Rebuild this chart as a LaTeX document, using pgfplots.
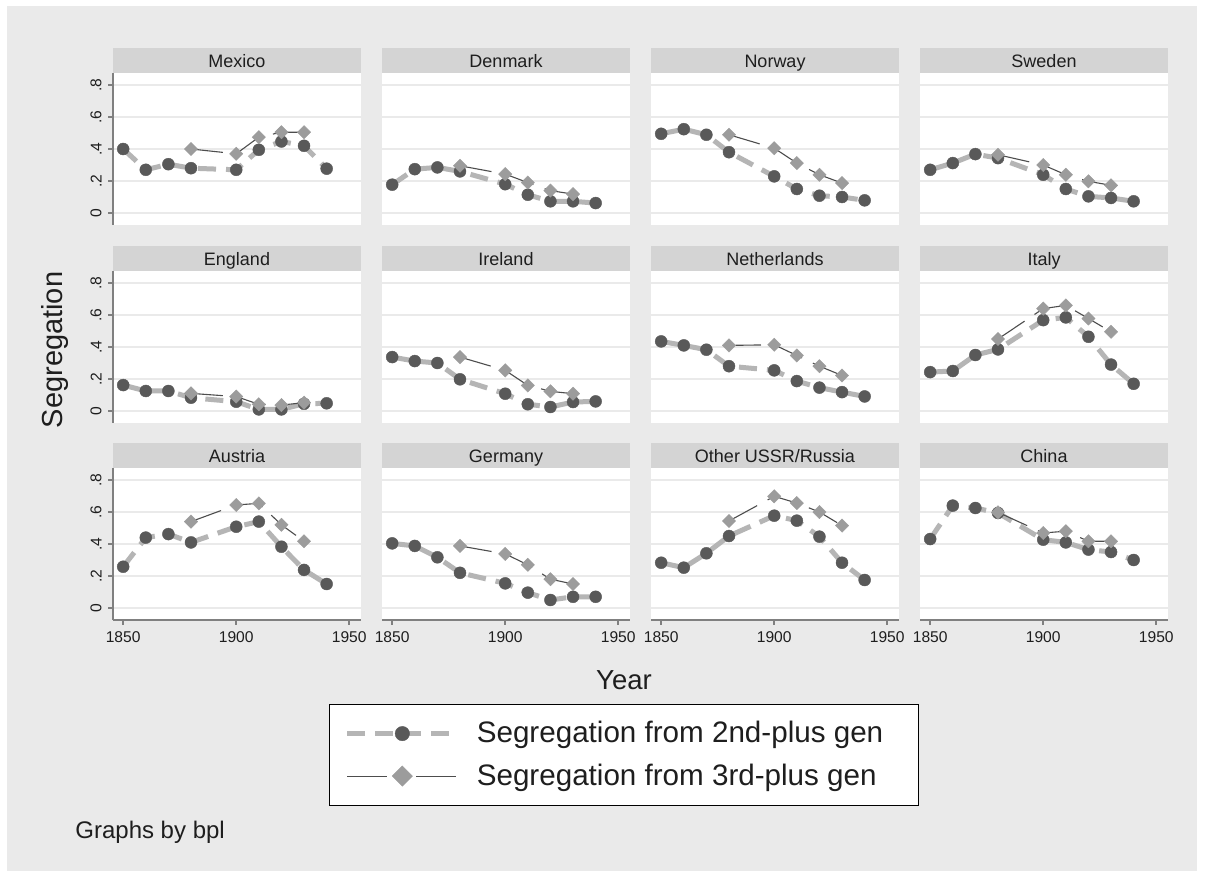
\documentclass[border=0pt]{standalone}
\usepackage{pgfplots}
\pgfplotsset{compat=1.18}
\usepackage{pgfplotstable}
\usepackage{fontspec}
\setmainfont{Liberation Sans}

\definecolor{bgouter}{HTML}{EAEAEA}
\definecolor{stripfill}{HTML}{D4D4D4}
\definecolor{gridc}{HTML}{EAEAEA}
\definecolor{axisc}{HTML}{808080}
\definecolor{secline}{HTML}{B5B5B5}
\definecolor{secmark}{HTML}{595959}
\definecolor{thrline}{HTML}{4D4D4D}
\definecolor{thrmark}{HTML}{9C9C9C}
\definecolor{txt}{HTML}{1E1E1E}

% year, segregation from 2nd-plus gen (sec), from 3rd-plus gen (thr)
\pgfplotstableread{
year sec thr
1850 0.400 nan
1860 0.270 nan
1870 0.305 nan
1880 0.280 0.400
1900 0.270 0.370
1910 0.395 0.474
1920 0.447 0.505
1930 0.420 0.505
1940 0.277 nan
}\tabMexico
\pgfplotstableread{
year sec thr
1850 0.177 nan
1860 0.274 nan
1870 0.285 nan
1880 0.260 0.295
1900 0.180 0.243
1910 0.114 0.190
1920 0.073 0.140
1930 0.073 0.118
1940 0.062 nan
}\tabDenmark
\pgfplotstableread{
year sec thr
1850 0.495 nan
1860 0.524 nan
1870 0.489 nan
1880 0.380 0.489
1900 0.229 0.405
1910 0.150 0.312
1920 0.108 0.239
1930 0.100 0.187
1940 0.079 nan
}\tabNorway
\pgfplotstableread{
year sec thr
1850 0.270 nan
1860 0.312 nan
1870 0.368 nan
1880 0.343 0.364
1900 0.239 0.300
1910 0.150 0.239
1920 0.104 0.198
1930 0.094 0.173
1940 0.073 nan
}\tabSweden
\pgfplotstableread{
year sec thr
1850 0.162 nan
1860 0.125 nan
1870 0.125 nan
1880 0.083 0.110
1900 0.058 0.090
1910 0.010 0.042
1920 0.010 0.037
1930 0.045 0.052
1940 0.048 nan
}\tabEngland
\pgfplotstableread{
year sec thr
1850 0.337 nan
1860 0.312 nan
1870 0.300 nan
1880 0.198 0.337
1900 0.108 0.254
1910 0.042 0.160
1920 0.025 0.123
1930 0.056 0.108
1940 0.060 nan
}\tabIreland
\pgfplotstableread{
year sec thr
1850 0.435 nan
1860 0.410 nan
1870 0.383 nan
1880 0.280 0.410
1900 0.254 0.414
1910 0.187 0.347
1920 0.146 0.280
1930 0.118 0.222
1940 0.091 nan
}\tabNetherlands
\pgfplotstableread{
year sec thr
1850 0.243 nan
1860 0.250 nan
1870 0.350 nan
1880 0.385 0.450
1900 0.568 0.640
1910 0.585 0.660
1920 0.464 0.578
1930 0.290 0.495
1940 0.170 nan
}\tabItaly
\pgfplotstableread{
year sec thr
1850 0.258 nan
1860 0.440 nan
1870 0.462 nan
1880 0.410 0.540
1900 0.508 0.644
1910 0.540 0.654
1920 0.383 0.520
1930 0.238 0.417
1940 0.150 nan
}\tabAustria
\pgfplotstableread{
year sec thr
1850 0.404 nan
1860 0.388 nan
1870 0.317 nan
1880 0.220 0.388
1900 0.154 0.338
1910 0.096 0.270
1920 0.050 0.180
1930 0.070 0.150
1940 0.070 nan
}\tabGermany
\pgfplotstableread{
year sec thr
1850 0.283 nan
1860 0.252 nan
1870 0.342 nan
1880 0.450 0.544
1900 0.577 0.698
1910 0.546 0.656
1920 0.446 0.600
1930 0.283 0.515
1940 0.175 nan
}\tabUSSR
\pgfplotstableread{
year sec thr
1850 0.431 nan
1860 0.640 nan
1870 0.625 nan
1880 0.594 0.598
1900 0.427 0.469
1910 0.410 0.480
1920 0.365 0.417
1930 0.350 0.417
1940 0.300 nan
}\tabChina

\tikzset{strip/.style={font=\fontsize{9}{10}\selectfont, text=txt, anchor=base, inner sep=0pt}}

\pgfplotsset{
  panel/.style={
    scale only axis, width=124pt, height=75.75pt,
    xmin=1845.5, xmax=1955.2, ymin=-0.075, ymax=0.872,
    axis background/.style={fill=white},
    axis x line*=bottom, axis y line*=left,
    xtick={1850,1900,1950}, ytick={0,0.2,0.4,0.6,0.8},
    ymajorgrids, grid style={gridc, line width=1pt},
    tick align=outside, major tick length=2.5pt,
    x axis line style={draw=none, -}, y axis line style={draw=none, -},
    xticklabels={}, yticklabels={},
    xtick style={draw=none}, ytick style={draw=none},
    ticklabel style={font=\fontsize{7.8}{9}\selectfont, text=txt},
    clip=false,
  },
  leftcol/.style={
    y axis line style={draw=axisc, line width=1pt, -},
    ytick style={draw=axisc, line width=0.8pt},
    yticklabels={0,.2,.4,.6,.8},
    yticklabel style={rotate=90, anchor=south, inner sep=3pt},
  },
  bottomrow/.style={
    x axis line style={draw=axisc, line width=1pt, -},
    xtick style={draw=axisc, line width=0.8pt},
    xticklabels={1850,1900,1950},
    xticklabel style={anchor=north, inner sep=3pt},
  },
  secgen/.style={secline, line width=2.5pt, dash pattern=on 9pt off 5pt,
    mark=*, mark size=3pt,
    mark options={solid, fill=secmark, draw=secmark, line width=0.2pt}},
  thrgen/.style={thrline, line width=0.55pt, dash pattern=on 16pt off 6pt,
    mark=square*, mark size=2.35pt,
    mark options={solid, rotate=45, fill=thrmark, draw=thrmark, line width=0.2pt}},
}

% one facet: position, title, table, extra axis options
\newcommand{\panel}[5]{%
  \begin{axis}[panel, #5, at={(#1,#2)}, anchor=south west]
    \addplot[secgen] table[x=year, y=sec] {#4};
    \addplot[thrgen] table[x=year, y=thr] {#4};
    \fill[stripfill] (rel axis cs:0,1) rectangle ([yshift=12.5pt]rel axis cs:1,1);
    \node[strip] at ([yshift=3.1pt]rel axis cs:0.5,1) {#3};
  \end{axis}}

\begin{document}
\begin{tikzpicture}
  \fill[white] (0,0) rectangle (602.5pt,438.5pt);
  \useasboundingbox (0,0) rectangle (602.5pt,438.5pt);
  \fill[bgouter] (3.5pt,3pt) rectangle (598.5pt,435.5pt);

  \panel{56.5pt}{326pt}{Mexico}{\tabMexico}{leftcol}
  \panel{191pt}{326pt}{Denmark}{\tabDenmark}{}
  \panel{325.5pt}{326pt}{Norway}{\tabNorway}{}
  \panel{460pt}{326pt}{Sweden}{\tabSweden}{}

  \panel{56.5pt}{227pt}{England}{\tabEngland}{leftcol}
  \panel{191pt}{227pt}{Ireland}{\tabIreland}{}
  \panel{325.5pt}{227pt}{Netherlands}{\tabNetherlands}{}
  \panel{460pt}{227pt}{Italy}{\tabItaly}{}

  \panel{56.5pt}{128.5pt}{Austria}{\tabAustria}{leftcol, bottomrow}
  \begin{axis}[panel, bottomrow, at={(191pt,128.5pt)}, anchor=south west,
      legend style={at={(0.976,-0.89)}, anchor=center, draw=black, line width=0.5pt,
        fill=white, font=\fontsize{14.8}{17}\selectfont, text=txt,
        inner xsep=7.5pt, inner ysep=8.5pt, row sep=9pt,
        nodes={inner sep=0pt}, cells={anchor=west}},
      legend image code/.code={%
        \draw[mark repeat=2, mark phase=2, mark size=3.6pt]
          plot coordinates {(0pt,0pt) (27.5pt,0pt) (55pt,0pt)};}]
    \addplot[secgen] table[x=year, y=sec] {\tabGermany};
    \addlegendentry{\hspace*{8.5pt}Segregation from 2nd-plus gen\hspace*{10pt}}
    \addplot[thrgen, legend image post style={dash pattern=on 20pt off 14.5pt}]
      table[x=year, y=thr] {\tabGermany};
    \addlegendentry{\hspace*{8.5pt}Segregation from 3rd-plus gen\hspace*{10pt}}
    \fill[stripfill] (rel axis cs:0,1) rectangle ([yshift=12.5pt]rel axis cs:1,1);
    \node[strip] at ([yshift=3.1pt]rel axis cs:0.5,1) {Germany};
  \end{axis}
  \panel{325.5pt}{128.5pt}{Other USSR/Russia}{\tabUSSR}{bottomrow}
  \panel{460pt}{128.5pt}{China}{\tabChina}{bottomrow}

  \node[rotate=90, font=\fontsize{14.5}{16}\selectfont, text=txt] at (27.5pt,263.5pt) {Segregation};
  \node[font=\fontsize{13.75}{16}\selectfont, text=txt] at (312pt,98.5pt) {Year};
  \node[anchor=west, font=\fontsize{12}{14}\selectfont, text=txt, inner sep=0pt] at (37.5pt,22.5pt) {Graphs by bpl};
\end{tikzpicture}
\end{document}
